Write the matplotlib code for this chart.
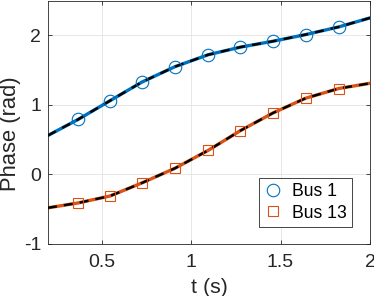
import matplotlib
matplotlib.use("Agg")
import matplotlib.pyplot as plt

# values
t = [0.2, 0.368, 0.547, 0.727, 0.911, 1.095, 1.276, 1.459, 1.64, 1.825, 2.0]
bus1 = [0.56, 0.79, 1.06, 1.33, 1.55, 1.72, 1.83, 1.915, 2.01, 2.12, 2.25]
bus13 = [-0.48, -0.41, -0.31, -0.12, 0.09, 0.345, 0.63, 0.885, 1.095, 1.235, 1.31]

t_mark = t[1:-1]
bus1_mark = bus1[1:-1]
bus13_mark = bus13[1:-1]

xticks = [0.5, 1, 1.5, 2]
xticklabels = ["0.5", "1", "1.5", "2"]
yticks = [-1, 0, 1, 2]

blue = "#0072BD"
orange = "#D95319"
dark = "#262626"

plt.rcParams["font.family"] = ["Liberation Sans", "DejaVu Sans"]
plt.rcParams["axes.unicode_minus"] = False

fig = plt.figure(figsize=(3.74, 2.96), dpi=100)
ax = fig.add_axes([48 / 374, 52 / 296, 322 / 374, 243.5 / 296])

ax.plot(t, bus1, color=blue, lw=2.4, zorder=2)
ax.plot(t, bus13, color=orange, lw=2.4, zorder=2)
ax.plot(t, bus1, color="black", lw=1.7, dashes=(3.8, 3.0), zorder=3)
ax.plot(t, bus13, color="black", lw=1.7, dashes=(3.8, 3.0), zorder=3)
h1, = ax.plot(t_mark, bus1_mark, "o", ms=9, mfc="none", mec=blue, mew=0.8, ls="none", zorder=4, label="Bus 1")
h2, = ax.plot(t_mark, bus13_mark, "s", ms=7.5, mfc="none", mec=orange, mew=0.8, ls="none", zorder=4, label="Bus 13")

ax.set_xlim(0.2, 2)
ax.set_ylim(-1, 2.5)
ax.set_xticks(xticks)
ax.set_xticklabels(xticklabels)
ax.set_yticks(yticks)
ax.grid(True, color="#e3e3e3", lw=0.6)
ax.set_axisbelow(True)
ax.tick_params(direction="in", length=3, width=0.6, colors=dark, labelsize=14,
               top=True, right=True)
ax.tick_params(axis="x", pad=7)
ax.tick_params(axis="y", pad=5)
for s in ax.spines.values():
    s.set_color(dark)
    s.set_linewidth(0.6)

ax.set_xlabel("t (s)", fontsize=15.4, color=dark)
ax.set_ylabel("Phase (rad)", fontsize=15.8, color=dark)
ax.xaxis.set_label_coords(0.5, -0.14)
ax.yaxis.set_label_coords(-0.084, 0.454)

leg = ax.legend(handles=[h1, h2], loc="lower right", bbox_to_anchor=(0.972, 0.034),
                fontsize=12.7, fancybox=False, framealpha=1, edgecolor=dark,
                handlelength=1.0, handletextpad=0.6, borderpad=0.3, labelspacing=0.25)
leg.get_frame().set_linewidth(0.6)

fig.savefig("out.png", dpi=100)
